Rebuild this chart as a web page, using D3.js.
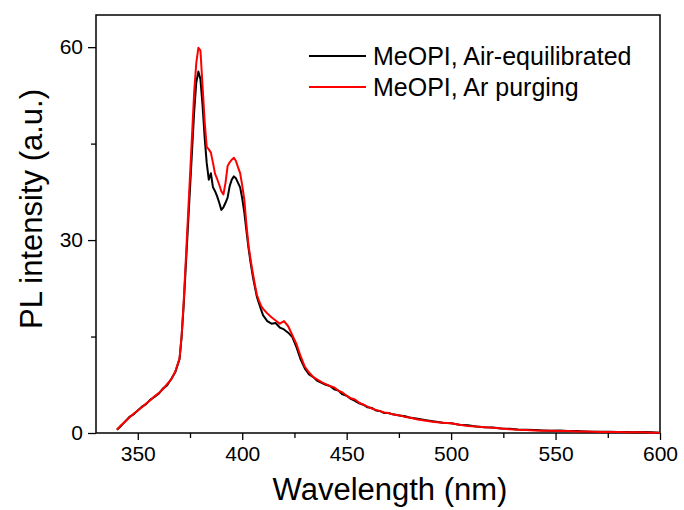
<!DOCTYPE html>
<html>
<head>
<meta charset="utf-8">
<script src="https://cdn.jsdelivr.net/npm/d3@7"></script>
<style>
  html, body { margin: 0; padding: 0; background: #fff; }
  svg text { font-family: Arial, "Liberation Sans", sans-serif; fill: #000; }
</style>
</head>
<body>
<div id="chart"></div>
<script>
// =================================================================
// DATA
// =================================================================
const wavelengths = [
  340, 342, 344, 346, 348, 350, 352, 354, 356, 358, 360, 362, 364, 366, 368,
  370, 371, 372, 373, 374, 375, 376, 377, 378, 379, 380, 381, 382, 383, 384,
  385, 386, 387, 388, 389, 390, 391, 392, 393, 394, 395, 396, 397, 398, 399,
  400, 401, 402, 403, 404, 405, 406, 407, 408, 409, 410,
  412, 414, 416, 418, 420, 422, 424, 426, 428, 430, 432, 434, 436, 438, 440,
  442, 444, 446, 448, 450, 452, 454, 456, 458, 460, 462, 464, 466, 468, 470,
  472, 474, 476, 478, 480,
  484, 488, 492, 496, 500, 504, 508, 512, 516, 520, 524, 528, 532, 536, 540,
  544, 548, 552, 556, 560, 564, 568, 572, 576, 580, 584, 588, 592, 596, 600
];

const airEquilibrated = [
  0.5, 1.1, 1.8, 2.5, 2.9, 3.5, 4.1, 4.5, 5.2, 5.6, 6.1, 6.9, 7.4, 8.4, 9.5,
  11.5, 15.0, 20.0, 26.0, 32.0, 38.0, 44.0, 50.0, 54.5, 56.2, 55.0, 51.0, 46.0, 42.0, 39.4,
  40.4, 38.2, 37.6, 36.8, 35.8, 34.7, 35.1, 35.8, 36.6, 38.4, 39.4, 39.9, 39.6, 38.9, 38.2,
  36.5, 34.3, 31.5, 28.8, 26.5, 24.5, 22.8, 21.2, 20.2, 19.2, 18.3,
  17.4, 17.0, 17.1, 16.4, 16.1, 15.6, 14.9, 13.3, 11.4, 10.0, 9.1, 8.7, 8.1, 7.8, 7.5,
  7.3, 6.8, 6.6, 6.0, 5.8, 5.3, 5.0, 4.6, 4.4, 4.0, 3.9, 3.5, 3.4, 3.1, 3.1,
  2.9, 2.8, 2.7, 2.6, 2.4,
  2.2, 2.0, 1.8, 1.6, 1.5, 1.3, 1.2, 1.0, 0.9, 0.85, 0.7, 0.65, 0.55, 0.5, 0.45,
  0.4, 0.35, 0.4, 0.3, 0.3, 0.25, 0.2, 0.2, 0.2, 0.15, 0.15, 0.1, 0.15, 0.1, 0.05
];

const arPurging = [
  0.5, 1.2, 1.8, 2.4, 3.0, 3.5, 4.0, 4.6, 5.1, 5.7, 6.2, 6.8, 7.6, 8.3, 9.6,
  11.6, 15.2, 20.5, 27.0, 33.5, 40.0, 46.5, 53.0, 57.5, 59.9, 59.5, 54.0, 48.5, 44.5, 44.1,
  43.6, 42.0, 40.3, 39.5, 38.6, 37.6, 37.1, 38.9, 41.5, 42.1, 42.5, 42.8, 42.3, 41.3, 40.4,
  38.5, 36.3, 32.5, 29.2, 27.0, 25.0, 23.2, 21.5, 20.6, 19.8, 19.3,
  18.6, 18.0, 17.5, 17.0, 17.4, 16.6, 15.2, 13.8, 11.9, 10.3, 9.4, 8.7, 8.3, 7.9, 7.6,
  7.3, 7.1, 6.6, 6.3, 5.8, 5.4, 5.2, 4.7, 4.4, 4.1, 3.8, 3.6, 3.4, 3.2, 3.1,
  2.9, 2.8, 2.7, 2.5, 2.4,
  2.1, 1.9, 1.7, 1.6, 1.5, 1.3, 1.1, 1.0, 0.9, 0.8, 0.7, 0.6, 0.5, 0.45, 0.4,
  0.35, 0.35, 0.3, 0.3, 0.25, 0.25, 0.2, 0.15, 0.15, 0.15, 0.1, 0.1, 0.1, 0.05, 0.05
];

const seriesNames = ["MeOPI, Air-equilibrated", "MeOPI, Ar purging"];
const seriesColors = ["#000000", "#ff0000"];
const xMajorTicks = [350, 400, 450, 500, 550, 600];
const xMinorTicks = [375, 425, 475, 525, 575];
const yMajorTicks = [0, 30, 60];
const yMinorTicks = [15, 45];

// =================================================================
// LAYOUT
// =================================================================
const width = 684, height = 510;
const margin = { top: 15, right: 24, bottom: 77, left: 96 };
const plotW = width - margin.left - margin.right;
const plotH = height - margin.top - margin.bottom;

const svg = d3.select("#chart").append("svg")
  .attr("width", width)
  .attr("height", height);

const g = svg.append("g").attr("transform", `translate(${margin.left},${margin.top})`);

const x = d3.scaleLinear().domain([330, 600]).range([0, plotW]);
const y = d3.scaleLinear().domain([0, 65]).range([plotH, 0]);

// =================================================================
// AXES
// =================================================================
g.append("g").attr("transform", `translate(0,${plotH})`)
  .call(d3.axisBottom(x).tickValues(xMajorTicks).tickSize(7).tickPadding(6).tickFormat(d3.format("d")));
g.append("g").attr("transform", `translate(0,${plotH})`)
  .call(d3.axisBottom(x).tickValues(xMinorTicks).tickSize(5).tickFormat(""));

g.append("g")
  .call(d3.axisLeft(y).tickValues(yMajorTicks).tickSize(8).tickPadding(5).tickFormat(d3.format("d")));
g.append("g")
  .call(d3.axisLeft(y).tickValues(yMinorTicks).tickSize(5).tickFormat(""));

g.selectAll(".domain").remove();
g.selectAll(".tick line").attr("stroke", "#000").attr("stroke-width", 1.3);
g.selectAll(".tick text").attr("font-size", 21).attr("fill", "#000");

// frame
g.append("rect")
  .attr("x", 0).attr("y", 0)
  .attr("width", plotW).attr("height", plotH)
  .attr("fill", "none")
  .attr("stroke", "#000")
  .attr("stroke-width", 1.5);

// =================================================================
// LINES
// =================================================================
const line = d3.line()
  .x((d, i) => x(wavelengths[i]))
  .y(d => y(d));

[airEquilibrated, arPurging].forEach((vals, k) => {
  g.append("path")
    .datum(vals)
    .attr("fill", "none")
    .attr("stroke", seriesColors[k])
    .attr("stroke-width", 2)
    .attr("stroke-linejoin", "round")
    .attr("d", line);
});

// =================================================================
// LEGEND
// =================================================================
const legend = svg.append("g").attr("transform", "translate(309,56)");
seriesNames.forEach((name, k) => {
  const row = legend.append("g").attr("transform", `translate(0,${k * 31})`);
  row.append("line")
    .attr("x1", 0).attr("x2", 57)
    .attr("y1", 0).attr("y2", 0)
    .attr("stroke", seriesColors[k])
    .attr("stroke-width", 2);
  row.append("text")
    .attr("x", 64).attr("y", 9)
    .attr("font-size", 25)
    .text(name);
});

// =================================================================
// AXIS TITLES
// =================================================================
svg.append("text")
  .attr("x", 390).attr("y", 500)
  .attr("text-anchor", "middle")
  .attr("font-size", 31)
  .text("Wavelength (nm)");

svg.append("text")
  .attr("transform", "translate(42,209) rotate(-90)")
  .attr("text-anchor", "middle")
  .attr("font-size", 31)
  .text("PL intensity (a.u.)");
</script>
</body>
</html>
